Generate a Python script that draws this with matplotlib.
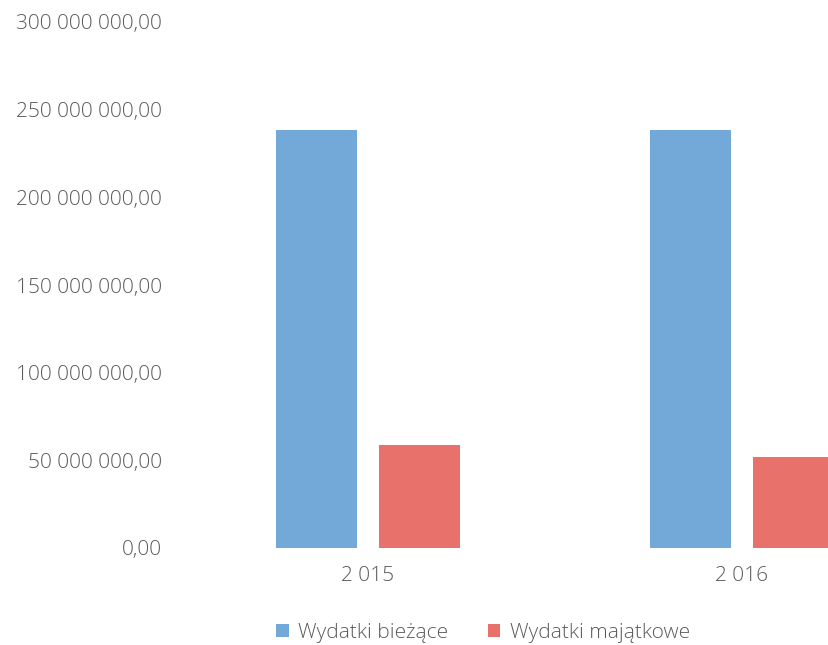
import matplotlib
matplotlib.use("Agg")
import matplotlib.pyplot as plt
import numpy as np

categories = ["2 015", "2 016"]
series_names = ["Wydatki bieżące", "Wydatki majątkowe"]
biezace = [238500000, 238500000]
majatkowe = [58700000, 51900000]
yticks = [0, 50000000, 100000000, 150000000, 200000000, 250000000, 300000000]

def fmt(v):
    s = f"{v:,.2f}"
    return s.replace(",", " ").replace(".", ",")

plt.rcParams['font.family'] = ['Open Sans', 'DejaVu Sans']
plt.rcParams['font.weight'] = 'light'
fig = plt.figure(figsize=(8.29, 6.45), dpi=100)
ax = fig.add_axes([181/829, 1-548/645, 1-181/829, (548-22)/645])

x = np.arange(len(categories))
w = 0.217
off = 0.1385
ax.bar(x - off, biezace, w, color="#72a9d9", label=series_names[0])
ax.bar(x + off, majatkowe, w, color="#e8716b", label=series_names[1])

ax.set_xlim(-0.5, 1.5 - 100/374)
ax.set_ylim(0, 300000000)
ax.set_yticks(yticks)
ax.set_yticklabels([fmt(v) for v in yticks])
ax.set_xticks(x)
ax.set_xticklabels(categories)
for s in ax.spines.values():
    s.set_visible(False)
ax.tick_params(axis='both', length=0, colors="#5a5a5a", labelsize=15)
ax.tick_params(axis='y', pad=13.5)
ax.tick_params(axis='x', pad=13)

leg = fig.legend(loc='center', bbox_to_anchor=(483/829, 1-633/645), ncol=2,
                 frameon=False, handlelength=0.6, handleheight=0.6,
                 columnspacing=1.9, handletextpad=0.45,
                 prop={'weight': 'light', 'size': 15})
for t in leg.get_texts():
    t.set_color("#5a5a5a")

fig.savefig("out.png", dpi=100)
